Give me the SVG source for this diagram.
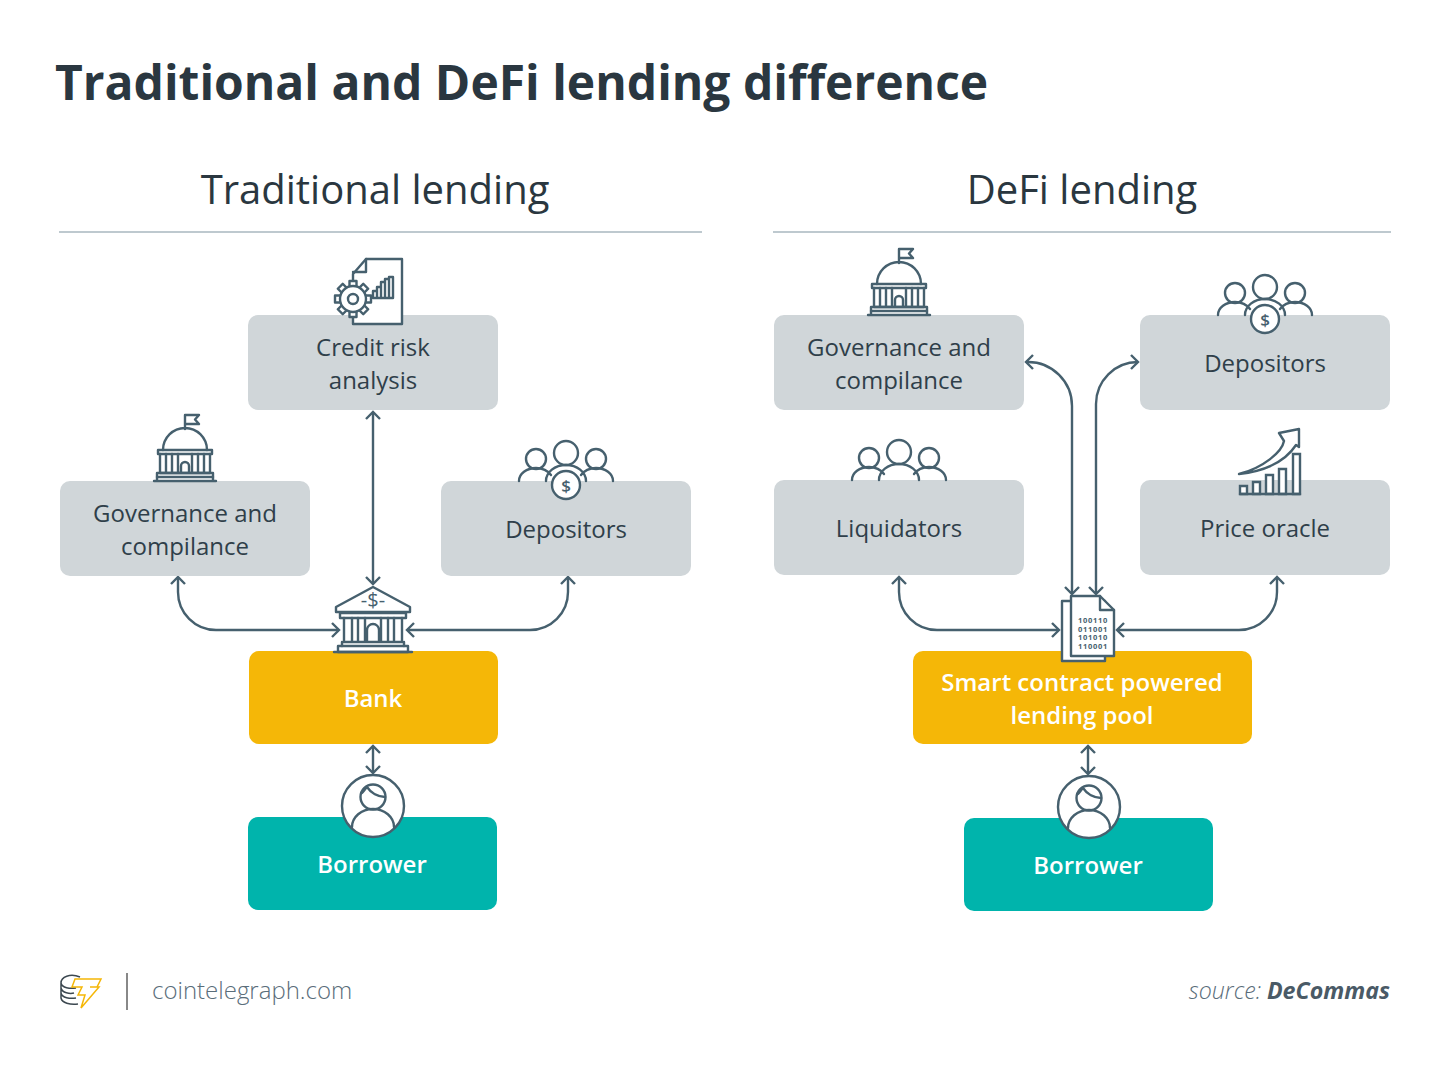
<svg xmlns="http://www.w3.org/2000/svg" width="1450" height="1070" viewBox="0 0 1450 1070">
<style>
text{font-family:"Open Sans","Noto Sans","Liberation Sans",sans-serif;text-anchor:middle}
.t{font-size:24px;fill:#2f3f4a}
.w{font-size:24px;fill:#fff;font-weight:600}
.h{font-size:40px;fill:#2a3740}
.g{fill:#d0d6d9}.y{fill:#f5b707}.c{fill:#00b4ac}
.i{fill:none;stroke:#46606e;stroke-width:2.4;stroke-linejoin:round;stroke-linecap:round}
.f{fill:#fff;stroke:#46606e;stroke-width:2.4;stroke-linejoin:round}
.l{fill:none;stroke:#46606e;stroke-width:2.4}
.r{stroke:#a9b8c0;stroke-width:1.5}
</style>
<defs>
<marker id="a" viewBox="-10 -8 12 16" refX="0" refY="0" markerWidth="12" markerHeight="16" markerUnits="userSpaceOnUse" orient="auto-start-reverse"><path d="M-7-7 0 0-7 7" fill="none" stroke="#46606e" stroke-width="2.400"/></marker>
<g id="capitol">
<path class="i" d="M0-52V-66H14L10-61.500 14-57H0M-22-31A22 22 0 0 1 22-31"/>
<rect class="i" x="-27" y="-31" width="54" height="4"/>
<path class="i" d="M-25-27V-8M-19-27V-8M-13-27V-8M-7-27V-8M13-27V-8M19-27V-8M25-27V-8M7-27V-8M-4-8V-15A4 4 0 0 1 4-15V-8M-25-8H25"/>
<rect class="i" x="-28" y="-8" width="56" height="4"/>
<path class="i" d="M-31 0H31M-28-4V0M28-4V0"/>
</g>
<g id="people">
<circle class="i" cx="0" cy="-28" r="12"/><circle class="i" cx="-30" cy="-22" r="10"/><circle class="i" cx="30" cy="-22" r="10"/>
<path class="i" d="M-47 0A17 13 0 0 1-30-13A18 14 0 0 1-15-6M47 0A17 13 0 0 0 30-13A18 14 0 0 0 15-6M-20 0A20 16 0 0 1 20 0"/>
</g>
<g id="coin"><circle class="f" cx="0" cy="0" r="14"/><text x="0" y="6.500" style="font-size:17px;font-weight:600;fill:#46606e">$</text></g>
<g id="person">
<circle class="f" cx="0" cy="0" r="31"/>
<circle class="i" cx="0" cy="-9" r="12.500"/>
<path class="i" d="M-11-13C-9-15-8-17-6-19C-2-13 5-9 12-9"/>
<path class="i" d="M-21 21A21 18 0 0 1 21 21"/>
</g>
<rect id="tooth" class="f" x="-3.500" y="-18" width="7" height="6"/>
</defs>
<rect width="1450" height="1070" fill="#fff"/>
<text x="55" y="100" style="font-size:48px;font-weight:700;fill:#2a3740;text-anchor:start">Traditional and DeFi lending difference</text>
<text class="h" x="375" y="204">Traditional lending</text>
<text class="h" x="1082" y="204">DeFi lending</text>
<path class="r" d="M59 232H702M773 232H1391"/>

<g id="connectors">
<path class="l" marker-start="url(#a)" marker-end="url(#a)" d="M373 412V584"/>
<path class="l" marker-start="url(#a)" marker-end="url(#a)" d="M178 577V592A38 38 0 0 0 216 630H339"/>
<path class="l" marker-start="url(#a)" marker-end="url(#a)" d="M568 577V592A38 38 0 0 1 530 630H407"/>
<path class="l" marker-start="url(#a)" marker-end="url(#a)" d="M373 746V773"/>
<path class="l" marker-start="url(#a)" marker-end="url(#a)" d="M1026 362H1028A44 44 0 0 1 1072 406V594"/>
<path class="l" marker-start="url(#a)" marker-end="url(#a)" d="M1138 362A42 42 0 0 0 1096 404V594"/>
<path class="l" marker-start="url(#a)" marker-end="url(#a)" d="M899 577V592A38 38 0 0 0 937 630H1059"/>
<path class="l" marker-start="url(#a)" marker-end="url(#a)" d="M1277 577V592A38 38 0 0 1 1239 630H1117"/>
<path class="l" marker-start="url(#a)" marker-end="url(#a)" d="M1088 746V774"/>
</g>

<g id="node-credit">
<rect class="g" x="248" y="315" width="250" height="95" rx="10"/>
<path class="f" d="M353 274 366 259H402V324H353Z"/>
<path class="i" d="M353 272H366V259"/>
<path class="i" d="M373 298V291H377V298ZM377 298V287H381V298ZM381 298V282H385V298ZM385 298V279H389V298ZM389 298V277H393V298Z"/>
<g transform="translate(353 299)">
<use href="#tooth"/><use href="#tooth" transform="rotate(45)"/><use href="#tooth" transform="rotate(90)"/><use href="#tooth" transform="rotate(135)"/><use href="#tooth" transform="rotate(180)"/><use href="#tooth" transform="rotate(225)"/><use href="#tooth" transform="rotate(270)"/><use href="#tooth" transform="rotate(315)"/>
<circle cx="0" cy="0" r="13.500" fill="#fff"/>
<circle class="i" cx="0" cy="0" r="13"/><circle class="i" cx="0" cy="0" r="5"/>
</g>
<text class="t" x="373" y="356">Credit risk</text><text class="t" x="373" y="389">analysis</text>
</g>
<g id="node-gov-t">
<rect class="g" x="60" y="481" width="250" height="95" rx="10"/>
<use href="#capitol" x="185" y="481"/>
<text class="t" x="185" y="522">Governance and</text><text class="t" x="185" y="555">compilance</text>
</g>
<g id="node-dep-t">
<rect class="g" x="441" y="481" width="250" height="95" rx="10"/>
<use href="#people" x="566" y="481"/><use href="#coin" x="566" y="485"/>
<text class="t" x="566" y="538">Depositors</text>
</g>
<g id="node-bank">
<rect class="y" x="249" y="651" width="249" height="93" rx="10"/>
<path class="f" d="M373 587 410 607V612H336V607Z"/>
<rect class="i" x="340" y="613" width="66" height="5"/>
<path class="i" d="M344 618V642M352 618V642M358 618V642M365 618V642M381 618V642M388 618V642M394 618V642M402 618V642M367 642V630A6 6 0 0 1 379 630V642M343 642H403"/>
<rect class="i" x="338" y="646" width="70" height="6"/>
<path class="i" d="M342 642V646M404 642V646M334 652H412"/>
<text x="373" y="607" style="font-size:20px;font-weight:400;fill:#46606e">-$-</text>
<text class="w" x="373" y="707">Bank</text>
</g>
<g id="node-borrower-t">
<rect class="c" x="248" y="817" width="249" height="93" rx="10"/>
<use href="#person" x="373" y="806"/>
<text class="w" x="372" y="873">Borrower</text>
</g>
<g id="node-gov-d">
<rect class="g" x="774" y="315" width="250" height="95" rx="10"/>
<use href="#capitol" x="899" y="315"/>
<text class="t" x="899" y="356">Governance and</text><text class="t" x="899" y="389">compilance</text>
</g>
<g id="node-dep-d">
<rect class="g" x="1140" y="315" width="250" height="95" rx="10"/>
<use href="#people" x="1265" y="315"/><use href="#coin" x="1265" y="319"/>
<text class="t" x="1265" y="372">Depositors</text>
</g>
<g id="node-liq">
<rect class="g" x="774" y="480" width="250" height="95" rx="10"/>
<use href="#people" x="899" y="480"/>
<text class="t" x="899" y="537">Liquidators</text>
</g>
<g id="node-oracle">
<rect class="g" x="1140" y="480" width="250" height="95" rx="10"/>
<path class="i" d="M1239 474C1263 468 1282 452 1284 441L1279 433 1299 429 1299 447 1296 445C1285 462 1265 471 1239 474Z"/>
<path d="M1240 486h7v8h-7zM1253 482h7v12h-7zM1266 475h7v19h-7zM1279 469h7v25h-7zM1293 454h7v40h-7z" fill="#fff" stroke="#46606e" stroke-width="2.400"/>
<path class="i" d="M1240 494H1300"/>
<text class="t" x="1265" y="537">Price oracle</text>
</g>
<g id="node-pool">
<rect class="y" x="913" y="651" width="339" height="93" rx="10"/>
<rect class="f" x="1062" y="601" width="43" height="60"/>
<path class="f" d="M1071 596H1100L1114 610V656H1071Z"/>
<path class="i" d="M1100 596V610H1114"/>
<text style="font-size:7.500px;font-weight:700;fill:#46606e;letter-spacing:.7px"><tspan x="1093" y="623">100110</tspan><tspan x="1093" y="632">011001</tspan><tspan x="1093" y="640">101010</tspan><tspan x="1093" y="649">110001</tspan></text>
<text class="w" x="1082" y="691">Smart contract powered</text><text class="w" x="1082" y="724">lending pool</text>
</g>
<g id="node-borrower-d">
<rect class="c" x="964" y="818" width="249" height="93" rx="10"/>
<use href="#person" x="1089" y="807"/>
<text class="w" x="1088" y="874">Borrower</text>
</g>
<g id="logo">
<path fill="none" stroke="#3c4850" stroke-width="1.500" d="M80 977C70 973 61 977 61 983V998C62 1003 70 1005 78 1004M61 983C62 988 70 989 76 988M61 988C62 993 70 994 74 993M61 993C62 998 70 999 76 998"/>
<path fill="#fff" stroke="#f5b707" stroke-width="1.500" d="M75 979H101L97 987H90L99 987 81 1008 85 995H78L82 987H72Z"/>
<path d="M127 973V1010" stroke="#888" stroke-width="2"/>
<text x="152" y="999" style="font-size:24px;font-weight:300;fill:#5a6d7a;text-anchor:start">cointelegraph.com</text>
</g>
<text x="1390" y="999" style="font-size:23.200px;font-style:italic;fill:#5a6d7a;text-anchor:end;font-weight:300">source: <tspan style="font-weight:700;fill:#4a5a66">DeCommas</tspan></text>
</svg>
